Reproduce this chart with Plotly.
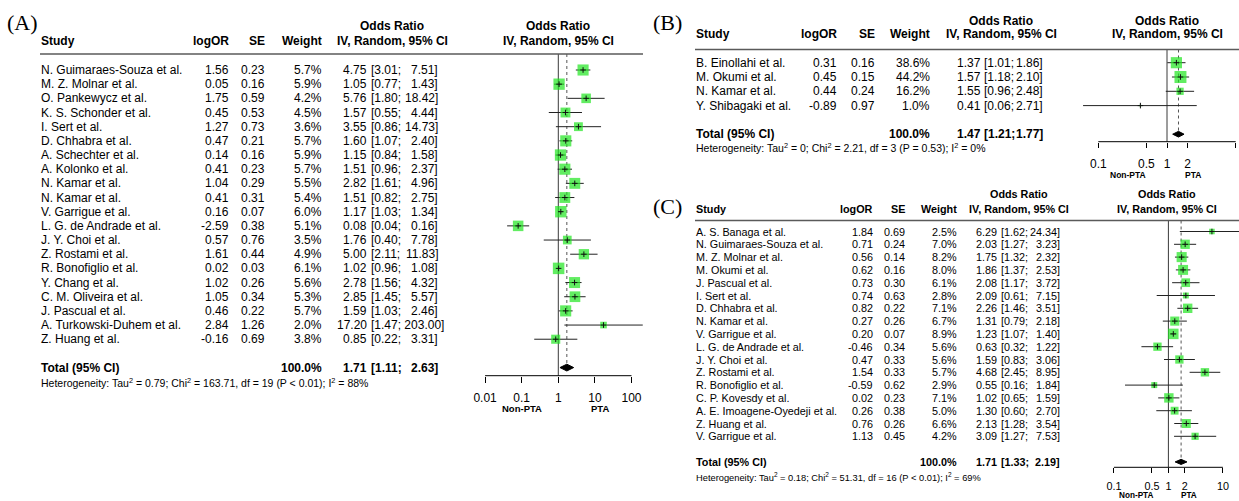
import math
import plotly.graph_objects as go

W, H = 1239, 501
SANS = "Liberation Sans, Arial, sans-serif"
SERIF = "Liberation Serif, Times New Roman, serif"
GREEN = "#1FE61F"

# ---------------- Panel A data ----------------
a_study = ["N. Guimaraes-Souza et al.", "M. Z. Molnar et al.", "O. Pankewycz et al.",
           "K. S. Schonder et al.", "I. Sert et al.", "D. Chhabra et al.", "A. Schechter et al.",
           "A. Kolonko et al.", "N. Kamar et al.", "N. Kamar et al.", "V. Garrigue et al.",
           "L. G. de Andrade et al.", "J. Y. Choi et al.", "Z. Rostami et al.", "R. Bonofiglio et al.",
           "Y. Chang et al.", "C. M. Oliveira et al.", "J. Pascual et al.",
           "A. Turkowski-Duhem et al.", "Z. Huang et al."]
a_logor = [1.56, 0.05, 1.75, 0.45, 1.27, 0.47, 0.14, 0.41, 1.04, 0.41, 0.16, -2.59, 0.57, 1.61,
           0.02, 1.02, 1.05, 0.46, 2.84, -0.16]
a_se = [0.23, 0.16, 0.59, 0.53, 0.73, 0.21, 0.16, 0.23, 0.29, 0.31, 0.07, 0.38, 0.76, 0.44,
        0.03, 0.26, 0.34, 0.22, 1.26, 0.69]
a_weight = [5.7, 5.9, 4.2, 4.5, 3.6, 5.7, 5.9, 5.7, 5.5, 5.4, 6.0, 5.1, 3.5, 4.9, 6.1, 5.6, 5.3,
            5.7, 2.0, 3.8]
a_or = [4.75, 1.05, 5.76, 1.57, 3.55, 1.60, 1.15, 1.51, 2.82, 1.51, 1.17, 0.08, 1.76, 5.00, 1.02,
        2.78, 2.85, 1.59, 17.20, 0.85]
a_lo = [3.01, 0.77, 1.80, 0.55, 0.86, 1.07, 0.84, 0.96, 1.61, 0.82, 1.03, 0.04, 0.40, 2.11, 0.96,
        1.56, 1.45, 1.03, 1.47, 0.22]
a_hi = [7.51, 1.43, 18.42, 4.44, 14.73, 2.40, 1.58, 2.37, 4.96, 2.75, 1.34, 0.16, 7.78, 11.83,
        1.08, 4.32, 5.57, 2.46, 203.00, 3.31]
a_total = [100.0, 1.71, 1.11, 2.63]
a_het = "Heterogeneity: Tau<sup>2</sup> = 0.79; Chi<sup>2</sup> = 163.71, df = 19 (P < 0.01); I<sup>2</sup> = 88%"
a_ticks = [0.01, 0.1, 1, 10, 100]
a_ticktext = ["0.01", "0.1", "1", "10", "100"]

# ---------------- Panel B data ----------------
b_study = ["B. Einollahi et al.", "M. Okumi et al.", "N. Kamar et al.", "Y. Shibagaki et al."]
b_logor = [0.31, 0.45, 0.44, -0.89]
b_se = [0.16, 0.15, 0.24, 0.97]
b_weight = [38.6, 44.2, 16.2, 1.0]
b_or = [1.37, 1.57, 1.55, 0.41]
b_lo = [1.01, 1.18, 0.96, 0.06]
b_hi = [1.86, 2.10, 2.48, 2.71]
b_total = [100.0, 1.47, 1.21, 1.77]
b_het = "Heterogeneity: Tau<sup>2</sup> = 0; Chi<sup>2</sup> = 2.21, df = 3 (P = 0.53); I<sup>2</sup> = 0%"
b_ticks = [0.1, 0.5, 1, 2, 10]
b_ticktext = ["0.1", "0.5", "1", "2", "10"]

# ---------------- Panel C data ----------------
c_study = ["A. S. Banaga et al.", "N. Guimaraes-Souza et al.", "M. Z. Molnar et al.", "M. Okumi et al.",
           "J. Pascual et al.", "I. Sert et al.", "D. Chhabra et al.", "N. Kamar et al.",
           "V. Garrigue et al.", "L. G. de Andrade et al.", "J. Y. Choi et al.", "Z. Rostami et al.",
           "R. Bonofiglio et al.", "C. P. Kovesdy et al.", "A. E. Imoagene-Oyedeji et al.",
           "Z. Huang et al.", "V. Garrigue et al."]
c_logor = [1.84, 0.71, 0.56, 0.62, 0.73, 0.74, 0.82, 0.27, 0.20, -0.46, 0.47, 1.54, -0.59, 0.02,
           0.26, 0.76, 1.13]
c_se = [0.69, 0.24, 0.14, 0.16, 0.30, 0.63, 0.22, 0.26, 0.07, 0.34, 0.33, 0.33, 0.62, 0.23, 0.38,
        0.26, 0.45]
c_weight = [2.5, 7.0, 8.2, 8.0, 6.1, 2.8, 7.1, 6.7, 8.9, 5.6, 5.6, 5.7, 2.9, 7.1, 5.0, 6.6, 4.2]
c_or = [6.29, 2.03, 1.75, 1.86, 2.08, 2.09, 2.26, 1.31, 1.23, 0.63, 1.59, 4.68, 0.55, 1.02, 1.30,
        2.13, 3.09]
c_lo = [1.62, 1.27, 1.32, 1.37, 1.17, 0.61, 1.46, 0.79, 1.07, 0.32, 0.83, 2.45, 0.16, 0.65, 0.60,
        1.28, 1.27]
c_hi = [24.34, 3.23, 2.32, 2.53, 3.72, 7.15, 3.51, 2.18, 1.40, 1.22, 3.06, 8.95, 1.84, 1.59, 2.70,
        3.54, 7.53]
c_total = [100.0, 1.71, 1.33, 2.19]
c_het = "Heterogeneity: Tau<sup>2</sup> = 0.18; Chi<sup>2</sup> = 51.31, df = 16 (P < 0.01); I<sup>2</sup> = 69%"
c_ticks = [0.1, 0.5, 1, 2, 10]
c_ticktext = ["0.1", "0.5", "1", "2", "10"]

col_headers = ["Study", "logOR", "SE", "Weight"]
or_header = ["Odds Ratio", "IV, Random, 95% CI"]
side_labels = ["Non-PTA", "PTA"]

# ---------------- layout configuration (pixel positions) ----------------
cfgA = dict(label="(A)", label_xy=(22, 22), y0=70, dy=14.17, total_row=21,
            name_x=40, logor_x=230, se_x=266, w_x=323, est_x=368, br_x=370, hi_x=439,
            ci_center=392, hdr1_y=26, hdr2_y=41, line_y=54, line_x=(40, 643), het_y=382.7,
            fs=12, fs_het=10.5, fs_side=9.5,
            dom=(470, 650), one_px=558.3, ppd=36.6, axis_y=375.7, ticklen=6, standoff=5,
            forest_center=558, side_px=(521.7, 600), side_y=408, sq_k=4.66, dia_h=0.24)
cfgB = dict(label="(B)", label_xy=(667, 22), y0=62.7, dy=14.3, total_row=5,
            name_x=695, logor_x=838, se_x=876, w_x=931, est_x=981.7, br_x=983.3, hi_x=1043.5,
            ci_center=1001, hdr1_y=20.7, hdr2_y=34.3, line_y=49.5, line_x=(695, 1239), het_y=147.3,
            fs=12, fs_het=10.5, fs_side=8.5,
            dom=(1075, 1239), one_px=1167, ppd=68.7, axis_y=141.7, ticklen=5, standoff=6,
            forest_center=1167, side_px=(1128, 1193.3), side_y=175, sq_k=1.8, dia_h=0.2)
cfgC = dict(label="(C)", label_xy=(667, 206), y0=231.5, dy=12.8, total_row=18,
            name_x=695, logor_x=874, se_x=906, w_x=958, est_x=998, br_x=1000, hi_x=1061,
            ci_center=1019, hdr1_y=193.5, hdr2_y=208.5, line_y=220.5, line_x=(695, 1239), het_y=476.7,
            fs=10.8, fs_het=9.3, fs_side=8.2,
            dom=(1085, 1239), one_px=1168.4, ppd=54.5, axis_y=467.3, ticklen=5, standoff=4,
            forest_center=1167, side_px=(1136, 1189), side_y=495, sq_k=3.52, dia_h=0.2)

fig = go.Figure()
annotations = []
shapes = []


def ann(x_px, yv, yref, text, anchor="left", size=12, bold=False, family=SANS):
    if bold:
        text = "<b>" + text + "</b>"
    return dict(x=x_px / W, xref="paper", y=yv, yref=yref, text=text, showarrow=False,
                xanchor=anchor, yanchor="middle", borderpad=0,
                font=dict(size=size, family=family, color="black"))


def add_panel(idx, cfg, study, logor, se, weight, orv, lo, hi, total, het, ticks, ticktext):
    sfx = "" if idx == 1 else str(idx)
    xa, ya = "x" + sfx, "y" + sfx
    y0, dy = cfg["y0"], cfg["dy"]

    def rv(py):
        return (py - y0) / dy

    fs = cfg["fs"]
    n = len(study)
    rows = list(range(n))

    # panel label
    annotations.append(ann(cfg["label_xy"][0], rv(cfg["label_xy"][1]), ya, cfg["label"],
                           anchor="center", size=22, family=SERIF))
    # headers
    hy1, hy2 = rv(cfg["hdr1_y"]), rv(cfg["hdr2_y"])
    annotations.append(ann(cfg["name_x"], hy2, ya, col_headers[0], "left", fs, True))
    annotations.append(ann(cfg["logor_x"], hy2, ya, col_headers[1], "right", fs, True))
    annotations.append(ann(cfg["se_x"], hy2, ya, col_headers[2], "right", fs, True))
    annotations.append(ann(cfg["w_x"], hy2, ya, col_headers[3], "right", fs, True))
    for cx in (cfg["ci_center"], cfg["forest_center"]):
        annotations.append(ann(cx, hy1, ya, or_header[0], "center", fs, True))
        annotations.append(ann(cx, hy2, ya, or_header[1], "center", fs, True))
    # header rule
    shapes.append(dict(type="line", xref="paper", yref=ya, x0=cfg["line_x"][0] / W,
                       x1=cfg["line_x"][1] / W, y0=rv(cfg["line_y"]), y1=rv(cfg["line_y"]),
                       line=dict(color="#5a5a5a", width=1.5)))

    def ci_cells(r, est, l, h, bold=False):
        annotations.append(ann(cfg["est_x"], r, ya, f"{est:.2f}", "right", fs, bold))
        hs = f"{h:.2f}"
        if len(hs) > 5:
            annotations.append(ann(cfg["br_x"], r, ya, f"[{l:.2f}; {hs}]", "left", fs, bold))
        else:
            annotations.append(ann(cfg["br_x"], r, ya, f"[{l:.2f};", "left", fs, bold))
            annotations.append(ann(cfg["hi_x"], r, ya, hs + "]", "right", fs, bold))

    for i in rows:
        annotations.append(ann(cfg["name_x"], i, ya, study[i], "left", fs))
        annotations.append(ann(cfg["logor_x"], i, ya, f"{logor[i]:.2f}", "right", fs))
        annotations.append(ann(cfg["se_x"], i, ya, f"{se[i]:.2f}", "right", fs))
        annotations.append(ann(cfg["w_x"], i, ya, f"{weight[i]:.1f}%", "right", fs))
        ci_cells(i, orv[i], lo[i], hi[i])

    tr = cfg["total_row"]
    annotations.append(ann(cfg["name_x"], tr, ya, "Total (95% CI)", "left", fs, True))
    annotations.append(ann(cfg["w_x"], tr, ya, f"{total[0]:.1f}%", "right", fs, True))
    ci_cells(tr, total[1], total[2], total[3], True)
    annotations.append(ann(cfg["name_x"], rv(cfg["het_y"]), ya, het, "left", cfg["fs_het"]))

    # side labels under axis
    sy = rv(cfg["side_y"])
    annotations.append(ann(cfg["side_px"][0], sy, ya, side_labels[0], "center", cfg["fs_side"], True))
    annotations.append(ann(cfg["side_px"][1], sy, ya, side_labels[1], "center", cfg["fs_side"], True))

    # ---- forest traces ----
    top_v = rv(cfg["line_y"])
    axis_v = rv(cfg["axis_y"])
    # reference line at OR = 1
    fig.add_trace(go.Scatter(x=[1, 1], y=[top_v, axis_v], xaxis=xa, yaxis=ya, mode="lines",
                             line=dict(color="#3a3a3a", width=1), hoverinfo="skip", showlegend=False))
    # dotted overall-effect line
    fig.add_trace(go.Scatter(x=[total[1], total[1]], y=[top_v, tr - cfg["dia_h"]], xaxis=xa, yaxis=ya,
                             mode="lines", line=dict(color="#555555", width=1, dash="dot"),
                             hoverinfo="skip", showlegend=False))
    # axis line
    fig.add_trace(go.Scatter(x=[ticks[0], ticks[-1]], y=[axis_v, axis_v], xaxis=xa, yaxis=ya,
                             mode="lines", line=dict(color="black", width=1), hoverinfo="skip",
                             showlegend=False))
    # CI whiskers
    cx, cy = [], []
    for i in rows:
        cx += [lo[i], hi[i], None]
        cy += [i, i, None]
    fig.add_trace(go.Scatter(x=cx, y=cy, xaxis=xa, yaxis=ya, mode="lines",
                             line=dict(color="#222222", width=1), hoverinfo="skip", showlegend=False))
    # weighted squares
    fig.add_trace(go.Scatter(x=orv, y=rows, xaxis=xa, yaxis=ya, mode="markers",
                             marker=dict(symbol="square", color=GREEN,
                                         size=[cfg["sq_k"] * math.sqrt(w) for w in weight],
                                         line=dict(width=0)),
                             hoverinfo="skip", showlegend=False))
    # point-estimate crosses
    fig.add_trace(go.Scatter(x=orv, y=rows, xaxis=xa, yaxis=ya, mode="markers",
                             marker=dict(symbol="cross-thin", size=4, color="#111111",
                                         line=dict(width=1, color="#111111")),
                             hoverinfo="skip", showlegend=False))
    # diamond
    h = cfg["dia_h"]
    fig.add_trace(go.Scatter(x=[total[2], total[1], total[3], total[1], total[2]],
                             y=[tr, tr - h, tr, tr + h, tr], xaxis=xa, yaxis=ya, mode="lines",
                             fill="toself", fillcolor="black", line=dict(color="black", width=1),
                             hoverinfo="skip", showlegend=False))

    d0, d1 = cfg["dom"]
    rng = [(d0 - cfg["one_px"]) / cfg["ppd"], (d1 - cfg["one_px"]) / cfg["ppd"]]
    fig.update_layout(**{
        "xaxis" + sfx: dict(type="log", domain=[d0 / W, d1 / W], range=rng, anchor="free",
                            position=1 - cfg["axis_y"] / H, tickmode="array", tickvals=ticks,
                            ticktext=ticktext, ticks="outside", ticklen=cfg["ticklen"], tickwidth=1,
                            tickcolor="black", showline=False, showgrid=False, zeroline=False,
                            ticklabelstandoff=cfg["standoff"], fixedrange=True,
                            tickfont=dict(size=fs, family=SANS, color="black")),
        "yaxis" + sfx: dict(domain=[0, 1], range=[(H - y0) / dy, -y0 / dy], visible=False,
                            fixedrange=True, anchor=xa),
    })


add_panel(1, cfgA, a_study, a_logor, a_se, a_weight, a_or, a_lo, a_hi, a_total, a_het, a_ticks, a_ticktext)
add_panel(2, cfgB, b_study, b_logor, b_se, b_weight, b_or, b_lo, b_hi, b_total, b_het, b_ticks, b_ticktext)
add_panel(3, cfgC, c_study, c_logor, c_se, c_weight, c_or, c_lo, c_hi, c_total, c_het, c_ticks, c_ticktext)

fig.update_layout(width=W, height=H, margin=dict(l=0, r=0, t=0, b=0, pad=0),
                  paper_bgcolor="white", plot_bgcolor="rgba(0,0,0,0)",
                  annotations=annotations, shapes=shapes, showlegend=False,
                  font=dict(family=SANS, color="black"))
fig.write_html("out.html", config=dict(displayModeBar=False))
